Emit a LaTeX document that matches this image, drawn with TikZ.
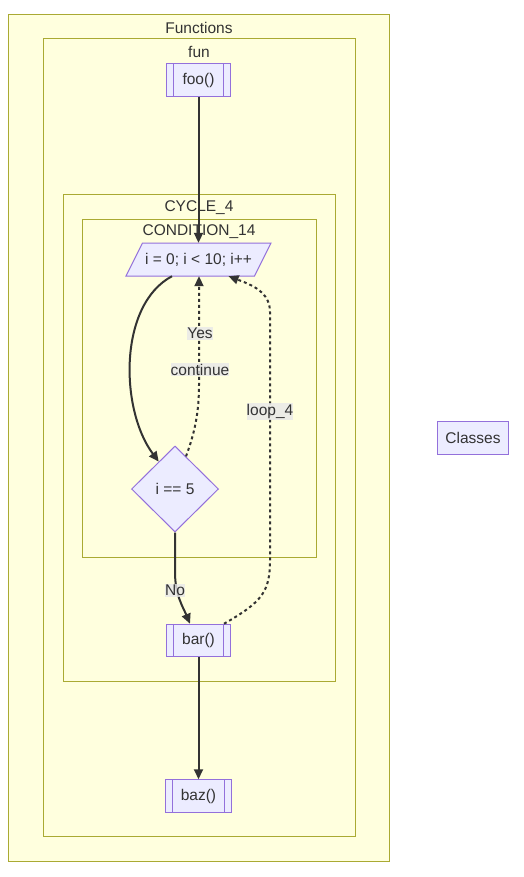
\documentclass[tikz,border=0pt]{standalone}
\usepackage{fontspec}
\setmainfont{Liberation Sans}
\usetikzlibrary{arrows.meta,shapes.geometric,calc}
\definecolor{clfill}{HTML}{FFFFDE}
\definecolor{cldraw}{HTML}{AAAA33}
\definecolor{ndfill}{HTML}{ECECFF}
\definecolor{nddraw}{HTML}{9370DB}
\definecolor{txt}{HTML}{333333}
\definecolor{lblbg}{HTML}{E8E8E8}
\tikzset{
  cluster/.style={fill=clfill,draw=cldraw,line width=1pt},
  cltext/.style={text=txt,font=\fontsize{15.5}{18}\selectfont,inner sep=0pt},
  subr/.style={draw=nddraw,fill=ndfill,line width=1pt,text=txt,font=\fontsize{15.5}{18}\selectfont,inner sep=0pt,minimum height=32.5},
  subline/.style={draw=nddraw,line width=1pt},
  plain/.style={draw=nddraw,fill=ndfill,line width=1pt,text=txt,font=\fontsize{15.5}{18}\selectfont,inner sep=0pt,minimum height=32.5},
  dia/.style={shape=diamond,aspect=1,draw=nddraw,fill=ndfill,line width=1pt,text=txt,font=\fontsize{15.5}{18}\selectfont,inner sep=0pt,minimum width=87,minimum height=86},
  edge/.style={draw=txt,line width=2pt,-{Triangle[length=10pt,width=9pt]}},
  dotedge/.style={edge,dash pattern=on 3pt off 3pt},
  elabel/.style={fill=lblbg,fill opacity=0.8,text opacity=1,text=txt,font=\fontsize{15.5}{18}\selectfont,inner xsep=0pt,inner ysep=1pt}
}
\begin{document}
\begin{tikzpicture}[x=1pt,y=-1pt]
\useasboundingbox (0,0) rectangle (524,877);
% clusters
\draw[cluster] (8,15) rectangle (389,861);
\node[cltext] (lFunctions) at (199,28) {Functions};
\draw[cluster] (43,39) rectangle (355,836);
\node[cltext] (lfun) at (199,52) {fun};
\draw[cluster] (63,195) rectangle (335,681);
\node[cltext] (lcycle) at (199,208) {CYCLE\_4};
\draw[cluster] (82,220) rectangle (316,557);
\node[cltext] (lcond) at (199,232) {CONDITION\_14};
% nodes
\node[subr,minimum width=63.5] (foo) at (198.5,80) {foo()};
\draw[subline] ([xshift=7.5pt]foo.north west) -- ([xshift=7.5pt]foo.south west);
\draw[subline] ([xshift=-7.5pt]foo.north east) -- ([xshift=-7.5pt]foo.south east);

\draw[draw=nddraw,fill=ndfill,line width=1pt] (126,276) -- (142.5,243) -- (271,243) -- (254.5,276) -- cycle;
\node[text=txt,font=\fontsize{15.5}{18}\selectfont,inner sep=0pt,minimum height=33,minimum width=129] (loop) at (198.5,259.5) {i = 0; i < 10; i++};

\node[dia] (cond) at (175,489) {i == 5};

\node[subr,minimum width=64] (bar) at (198.5,640.5) {bar()};
\draw[subline] ([xshift=7.5pt]bar.north west) -- ([xshift=7.5pt]bar.south west);
\draw[subline] ([xshift=-7.5pt]bar.north east) -- ([xshift=-7.5pt]bar.south east);

\node[subr,minimum width=66.5] (baz) at (198.5,796) {baz()};
\draw[subline] ([xshift=7.5pt]baz.north west) -- ([xshift=7.5pt]baz.south west);
\draw[subline] ([xshift=-7.5pt]baz.north east) -- ([xshift=-7.5pt]baz.south east);

\node[plain,minimum width=71] (classes) at (473,438) {Classes};

% edges
\draw[edge] (foo.south) -- (loop.north);
\draw[edge] ([xshift=-26.5pt]loop.south) .. controls (118,305) and (120,410) .. ($(cond.north)!0.37!(cond.west)$);
\draw[dotedge] ($(cond.north)!0.25!(cond.east)$) .. controls (195,432) and (199,412) .. (199,385) -- ([xshift=0.5pt]loop.south);
\node[elabel] (lyes) at (200,333.5) {Yes};
\node[elabel] (lcont) at (200,369.5) {continue};
\draw[edge] (cond.south) -- (175,572) .. controls (175,595) and (183,607) .. ([xshift=-8.5pt]bar.north);
\node[elabel] (lno) at (175,590.5) {No};
\draw[dotedge] ([xshift=-7pt]bar.north east) .. controls (262,602) and (270,592) .. (270,560) -- (270,312) .. controls (270,292) and (252,285) .. ([xshift=30pt]loop.south);
\node[elabel] (lloop) at (270,411.5) {loop\_4};
\draw[edge] (bar.south) -- (baz.north);
\end{tikzpicture}
\end{document}
